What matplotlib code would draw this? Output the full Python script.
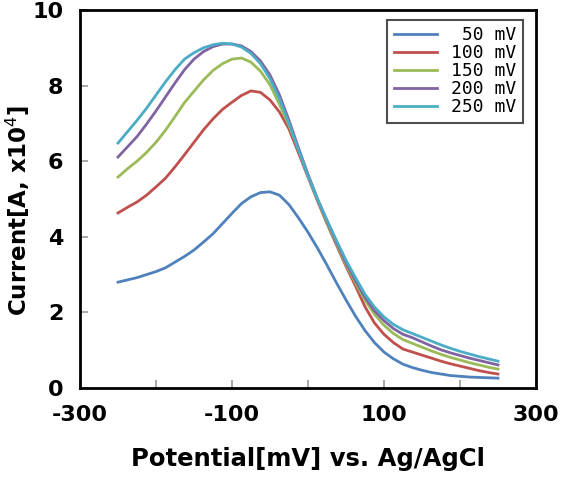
import matplotlib
matplotlib.use("Agg")
import matplotlib.pyplot as plt

# potential axis (mV vs Ag/AgCl), sampled every 12.5 mV
potential = [-250 + 12.5 * i for i in range(41)]

cur_50 = [2.80, 2.86, 2.92, 3.00, 3.08, 3.18, 3.33, 3.48, 3.65, 3.86,
          4.08, 4.35, 4.62, 4.88, 5.06, 5.17, 5.19, 5.10, 4.85, 4.50,
          4.12, 3.70, 3.25, 2.78, 2.33, 1.90, 1.52, 1.20, 0.95, 0.77,
          0.63, 0.54, 0.47, 0.41, 0.37, 0.33, 0.31, 0.29, 0.28, 0.27, 0.26]
cur_100 = [4.63, 4.78, 4.92, 5.10, 5.32, 5.55, 5.85, 6.17, 6.50, 6.83,
           7.12, 7.37, 7.56, 7.74, 7.86, 7.82, 7.62, 7.30, 6.85, 6.22,
           5.58, 4.95, 4.35, 3.78, 3.22, 2.70, 2.15, 1.72, 1.42, 1.20,
           1.03, 0.95, 0.87, 0.79, 0.71, 0.64, 0.58, 0.52, 0.46, 0.41, 0.37]
cur_150 = [5.58, 5.80, 6.00, 6.23, 6.50, 6.82, 7.18, 7.55, 7.85, 8.15,
           8.40, 8.58, 8.70, 8.73, 8.62, 8.38, 8.02, 7.50, 6.95, 6.30,
           5.62, 4.98, 4.38, 3.82, 3.27, 2.78, 2.32, 1.95, 1.66, 1.44,
           1.28, 1.18, 1.08, 0.98, 0.89, 0.81, 0.74, 0.67, 0.61, 0.55, 0.50]
cur_200 = [6.11, 6.38, 6.65, 6.98, 7.33, 7.70, 8.07, 8.42, 8.70, 8.90,
           9.03, 9.10, 9.10, 9.05, 8.90, 8.65, 8.28, 7.75, 7.08, 6.35,
           5.65, 5.00, 4.42, 3.86, 3.32, 2.84, 2.40, 2.04, 1.78, 1.57,
           1.42, 1.33, 1.22, 1.11, 1.01, 0.93, 0.86, 0.79, 0.73, 0.67, 0.61]
cur_250 = [6.48, 6.78, 7.08, 7.40, 7.75, 8.10, 8.42, 8.70, 8.87, 9.00,
           9.08, 9.12, 9.10, 9.02, 8.85, 8.58, 8.18, 7.65, 7.00, 6.30,
           5.62, 5.00, 4.44, 3.90, 3.38, 2.92, 2.48, 2.14, 1.88, 1.68,
           1.54, 1.44, 1.34, 1.24, 1.14, 1.05, 0.97, 0.90, 0.83, 0.77, 0.71]

labels = [" 50 mV", "100 mV", "150 mV", "200 mV", "250 mV"]
series = [cur_50, cur_100, cur_150, cur_200, cur_250]
colors = ["#4F81BD", "#C0504D", "#9BBB59", "#8064A2", "#4BACC6"]

x_ticks = [-300, -200, -100, 0, 100, 200, 300]
x_ticklabels = ["-300", "", "-100", "", "100", "", "300"]
y_ticks = [0, 2, 4, 6, 8, 10]

fig = plt.figure(figsize=(5.63, 4.8), dpi=100)
ax = fig.add_axes([80 / 563, 92 / 480, 456 / 563, 378 / 480])

for ys, lab, col in zip(series, labels, colors):
    ax.plot(potential, ys, color=col, lw=2.0, label=lab)

ax.set_xlim(-300, 300)
ax.set_ylim(0, 10)
ax.set_xticks(x_ticks)
ax.set_xticklabels(x_ticklabels)
ax.set_yticks(y_ticks)

for sp in ax.spines.values():
    sp.set_linewidth(2.0)
    sp.set_color("black")

ax.tick_params(direction="in", length=6, width=1.2, color="#999999",
               labelsize=16, pad=12)
for t in ax.get_xticklabels() + ax.get_yticklabels():
    t.set_fontweight("bold")

ax.set_xlabel("Potential[mV] vs. Ag/AgCl", fontsize=17.5, fontweight="bold")
ax.xaxis.set_label_coords(0.5, -0.155)
ax.set_ylabel(r"Current[A, x10$^4$]", fontsize=16.5, fontweight="bold")
ax.yaxis.set_label_coords(-0.105, 0.47)

leg = ax.legend(loc="upper right", bbox_to_anchor=(523 / 563, 460 / 480),
                bbox_transform=fig.transFigure, borderaxespad=0,
                frameon=True, fancybox=False, edgecolor="#222222",
                handlelength=2.4, handletextpad=0.8,
                labelspacing=0.0, borderpad=0.35,
                prop={"family": "DejaVu Sans Mono", "size": 13})
leg.get_frame().set_linewidth(1.5)

plt.savefig("out.png", dpi=100)
